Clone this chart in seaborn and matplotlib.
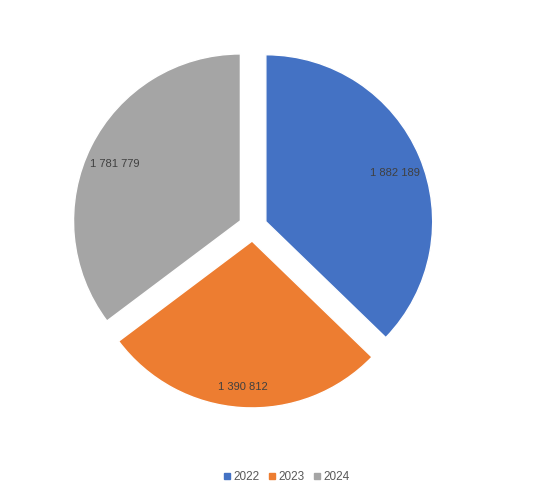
import matplotlib
matplotlib.use("Agg")
import matplotlib.pyplot as plt
import seaborn as sns
import numpy as np
from matplotlib.lines import Line2D

# --- data ---
years = ["2022", "2023", "2024"]
values = [1882189, 1390812, 1781779]
colors = ["#4472C4", "#ED7D31", "#A5A5A5"]

sns.set_theme(style="white")
plt.rcParams["font.family"] = ["Liberation Sans", "DejaVu Sans"]

fig = plt.figure(figsize=(5.57, 4.88), dpi=100)
ax = fig.add_axes([0.0646, 0.0902, 0.779, 0.889])

labels_txt = [f"{v:,}".replace(",", " ") for v in values]

wedges, _ = ax.pie(
    values,
    colors=colors,
    startangle=90,
    counterclock=False,
    explode=[0.084] * len(values),
    radius=1.0,
)

# value labels near the outer end of each wedge
for w, txt in zip(wedges, labels_txt):
    mid = np.deg2rad((w.theta1 + w.theta2) / 2)
    cx, cy = w.center
    ax.text(cx + 0.84 * np.cos(mid), cy + 0.84 * np.sin(mid) - 0.035, txt,
            ha="center", va="center", fontsize=8, color="#404040")

ax.set_xlim(-1.3, 1.3)
ax.set_ylim(-1.3, 1.3)
ax.set_aspect("equal")
ax.axis("off")

handles = [Line2D([0], [0], marker="s", linestyle="", markersize=4,
                  markerfacecolor=c, markeredgecolor=c) for c in colors]
fig.legend(handles, years, loc="center", bbox_to_anchor=(0.512, 0.022),
           ncol=3, frameon=False, fontsize=8.5, handletextpad=0.0,
           handlelength=1.0, columnspacing=0.6, labelcolor="#595959")

fig.savefig("out.png", dpi=100)
